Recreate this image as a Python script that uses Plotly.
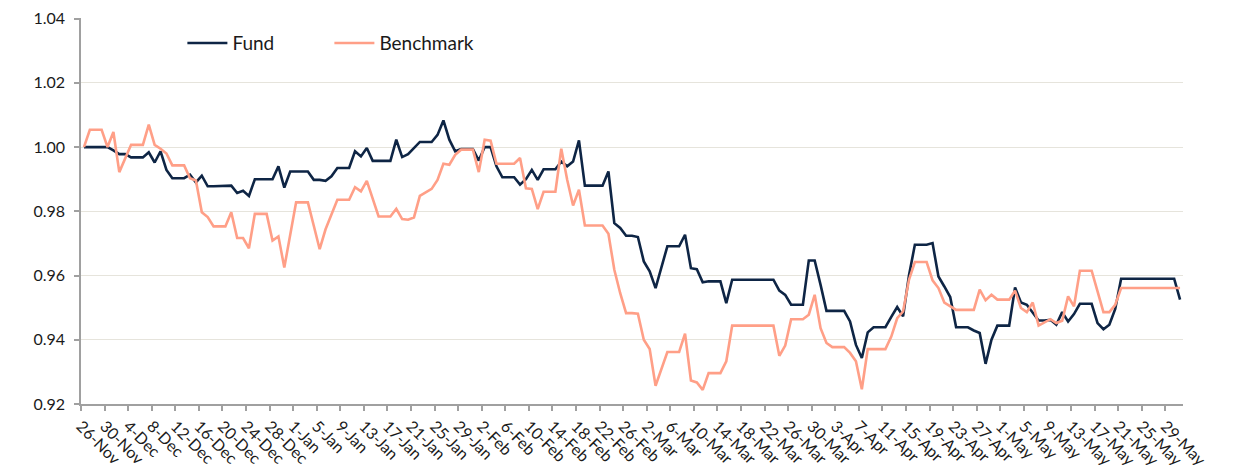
import pandas as pd
import plotly.graph_objects as go

# ---- data (daily, 26-Nov to 31-May) ----
start_date = "2020-11-26"
n_days = 187

fund = [
    1.0000, 1.0000, 1.0000, 1.0000, 1.0000, 0.9990, 0.9978, 0.9978, 0.9968, 0.9968,  # d0-9
    0.9968, 0.9984, 0.9952, 0.9987, 0.9929, 0.9903, 0.9903, 0.9903, 0.9914, 0.9890,  # d10-19
    0.9911, 0.9878, 0.9878, 0.9878, 0.9878, 0.9880, 0.9857, 0.9864, 0.9848, 0.9900,  # d20-29
    0.9900, 0.9900, 0.9900, 0.9940, 0.9874, 0.9924, 0.9924, 0.9924, 0.9924, 0.9898,  # d30-39
    0.9898, 0.9895, 0.9909, 0.9935, 0.9935, 0.9935, 0.9987, 0.9971, 0.9997, 0.9957,  # d40-49
    0.9957, 0.9957, 0.9957, 1.0023, 0.9969, 0.9978, 0.9997, 1.0016, 1.0016, 1.0016,  # d50-59
    1.0038, 1.0083, 1.0023, 0.9987, 0.9994, 0.9994, 0.9994, 0.9958, 1.0000, 1.0000,  # d60-69
    0.9940, 0.9906, 0.9906, 0.9906, 0.9883, 0.9900, 0.9929, 0.9898, 0.9931, 0.9931,  # d70-79
    0.9931, 0.9955, 0.9940, 0.9955, 1.0021, 0.9880, 0.9880, 0.9880, 0.9880, 0.9924,  # d80-89
    0.9763, 0.9748, 0.9724, 0.9724, 0.9720, 0.9644, 0.9613, 0.9561, 0.9628, 0.9691,  # d90-99
    0.9691, 0.9691, 0.9727, 0.9623, 0.9620, 0.9579, 0.9582, 0.9582, 0.9582, 0.9514,  # d100-109
    0.9587, 0.9587, 0.9587, 0.9587, 0.9587, 0.9587, 0.9587, 0.9587, 0.9553, 0.9540,  # d110-119
    0.9509, 0.9509, 0.9509, 0.9647, 0.9647, 0.9571, 0.9490, 0.9490, 0.9490, 0.9490,  # d120-129
    0.9457, 0.9384, 0.9343, 0.9423, 0.9439, 0.9439, 0.9439, 0.9471, 0.9502, 0.9473,  # d130-139
    0.9600, 0.9696, 0.9696, 0.9696, 0.9701, 0.9597, 0.9566, 0.9533, 0.9439, 0.9439,  # d140-149
    0.9439, 0.9429, 0.9421, 0.9325, 0.9400, 0.9444, 0.9444, 0.9444, 0.9563, 0.9516,  # d150-159
    0.9509, 0.9486, 0.9460, 0.9460, 0.9462, 0.9447, 0.9486, 0.9457, 0.9480, 0.9512,  # d160-169
    0.9512, 0.9512, 0.9452, 0.9433, 0.9447, 0.9496, 0.9590, 0.9590, 0.9590, 0.9590,  # d170-179
    0.9590, 0.9590, 0.9590, 0.9590, 0.9590, 0.9590, 0.9525,                          # d180-186
]

benchmark = [
    1.0000, 1.0054, 1.0054, 1.0054, 1.0000, 1.0047, 0.9922, 0.9965, 1.0007, 1.0007,  # d0-9
    1.0007, 1.0070, 1.0007, 0.9995, 0.9980, 0.9943, 0.9943, 0.9943, 0.9903, 0.9896,  # d10-19
    0.9797, 0.9782, 0.9753, 0.9753, 0.9753, 0.9797, 0.9717, 0.9717, 0.9685, 0.9792,  # d20-29
    0.9792, 0.9792, 0.9709, 0.9722, 0.9625, 0.9727, 0.9828, 0.9828, 0.9828, 0.9755,  # d30-39
    0.9682, 0.9744, 0.9792, 0.9836, 0.9836, 0.9836, 0.9875, 0.9862, 0.9895, 0.9836,  # d40-49
    0.9784, 0.9784, 0.9784, 0.9808, 0.9776, 0.9774, 0.9781, 0.9848, 0.9859, 0.9870,  # d50-59
    0.9898, 0.9948, 0.9945, 0.9976, 0.9992, 0.9992, 0.9992, 0.9922, 1.0023, 1.0020,  # d60-69
    0.9948, 0.9948, 0.9948, 0.9948, 0.9966, 0.9872, 0.9870, 0.9807, 0.9861, 0.9861,  # d70-79
    0.9861, 0.9995, 0.9898, 0.9818, 0.9867, 0.9756, 0.9756, 0.9756, 0.9756, 0.9730,  # d80-89
    0.9618, 0.9545, 0.9483, 0.9483, 0.9481, 0.9400, 0.9371, 0.9257, 0.9307, 0.9362,  # d90-99
    0.9362, 0.9362, 0.9419, 0.9273, 0.9267, 0.9244, 0.9296, 0.9296, 0.9296, 0.9333,  # d100-109
    0.9444, 0.9444, 0.9444, 0.9444, 0.9444, 0.9444, 0.9444, 0.9444, 0.9350, 0.9382,  # d110-119
    0.9464, 0.9464, 0.9464, 0.9478, 0.9540, 0.9436, 0.9390, 0.9377, 0.9377, 0.9377,  # d120-129
    0.9359, 0.9333, 0.9246, 0.9371, 0.9371, 0.9371, 0.9371, 0.9410, 0.9467, 0.9488,  # d130-139
    0.9587, 0.9642, 0.9642, 0.9642, 0.9585, 0.9561, 0.9516, 0.9504, 0.9493, 0.9493,  # d140-149
    0.9493, 0.9493, 0.9556, 0.9523, 0.9540, 0.9525, 0.9525, 0.9525, 0.9553, 0.9499,  # d150-159
    0.9486, 0.9516, 0.9444, 0.9454, 0.9464, 0.9452, 0.9459, 0.9535, 0.9504, 0.9615,  # d160-169
    0.9615, 0.9615, 0.9551, 0.9486, 0.9486, 0.9509, 0.9561, 0.9561, 0.9561, 0.9561,  # d170-179
    0.9561, 0.9561, 0.9561, 0.9561, 0.9561, 0.9561, 0.9561,                          # d180-186
]

dates = pd.date_range(start_date, periods=n_days, freq="D")
tick_dates = pd.date_range("2020-11-26", "2021-05-29", freq="4D")
tick_labels = [f"{d.day}-{d.strftime('%b')}" for d in tick_dates]

y_ticks = [0.92, 0.94, 0.96, 0.98, 1.00, 1.02, 1.04]

FUND_COLOR = "#0e2545"
BENCH_COLOR = "#ff9f87"
FONT = "Lato"
TEXT_COLOR = "#1a1a1a"

half_day = pd.Timedelta(hours=12)

fig = go.Figure()
fig.add_trace(go.Scatter(x=dates, y=fund, mode="lines", name="Fund",
                         line=dict(color=FUND_COLOR, width=2.6)))
fig.add_trace(go.Scatter(x=dates, y=benchmark, mode="lines", name="Benchmark",
                         line=dict(color=BENCH_COLOR, width=2.6)))

fig.update_layout(
    width=1241, height=472,
    margin=dict(l=73, r=66, t=10, b=76),
    paper_bgcolor="white", plot_bgcolor="white",
    font=dict(family=FONT, size=16, color=TEXT_COLOR),
    showlegend=True,
    legend=dict(orientation="h", x=0.092, y=0.935, xanchor="left", yanchor="middle",
                font=dict(family=FONT, size=19, color=TEXT_COLOR),
                bgcolor="rgba(0,0,0,0)", entrywidth=92, itemwidth=40),
)

fig.update_xaxes(
    type="date", automargin=False,
    range=[dates[0] - half_day, dates[-1] + half_day],
    tickmode="array",
    tickvals=[d - half_day for d in tick_dates],
    ticktext=tick_labels,
    tickangle=45, ticklabeloverflow="allow",
    tickfont=dict(family=FONT, size=16, color=TEXT_COLOR),
    ticks="outside", ticklen=5, tickcolor="#a0a0a0", tickwidth=1.5,
    showline=True, linecolor="#a0a0a0", linewidth=1.5,
    showgrid=False, zeroline=False,
)
fig.update_yaxes(
    range=[0.92, 1.0402], automargin=False,
    tickmode="array", tickvals=y_ticks,
    ticktext=[f"{v:.2f}" for v in y_ticks],
    ticklabeloverflow="allow",
    tickfont=dict(family=FONT, size=16, color=TEXT_COLOR),
    ticks="outside", ticklen=5, tickcolor="#a0a0a0", tickwidth=1.5,
    showline=True, linecolor="#a0a0a0", linewidth=1.5,
    showgrid=True, gridcolor="#e6e4dc", gridwidth=1,
    zeroline=False, ticklabelstandoff=6,
)

fig.write_html("out.html")
